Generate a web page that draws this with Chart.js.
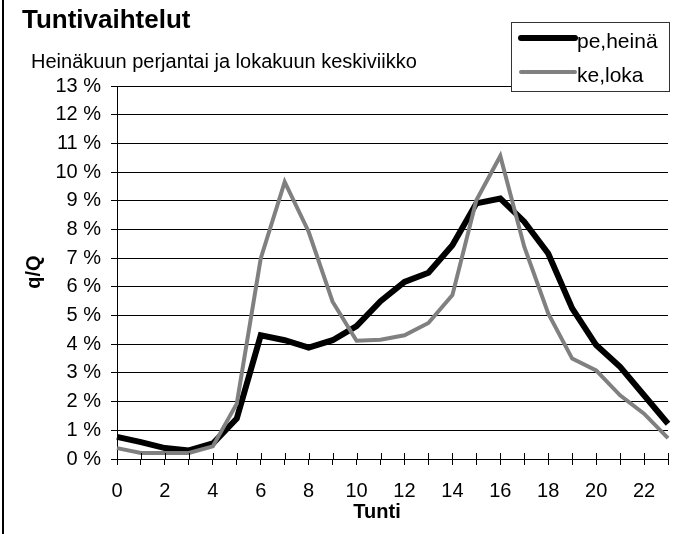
<!DOCTYPE html>
<html>
<head>
<meta charset="utf-8">
<script src="https://cdn.jsdelivr.net/npm/chart.js@4"></script>
<style>
  body { margin: 0; background: #fff; }
  #wrap { width: 691px; height: 534px; }
</style>
</head>
<body>
<div id="wrap"><canvas id="tuntiChart" width="691" height="534"></canvas></div>
<script>
// Tunnit (x-akseli)
const tunnit = [0, 1, 2, 3, 4, 5, 6, 7, 8, 9, 10, 11, 12, 13, 14, 15, 16, 17, 18, 19, 20, 21, 22, 23];

// Heinäkuun perjantai (%)
const peHeina = [0.77, 0.59, 0.38, 0.30, 0.54, 1.41, 4.31, 4.14, 3.88, 4.14, 4.63, 5.50,
                 6.17, 6.49, 7.45, 8.91, 9.08, 8.27, 7.16, 5.25, 3.97, 3.21, 2.22, 1.23];

// Lokakuun keskiviikko (%)
const keLoka = [0.38, 0.21, 0.21, 0.21, 0.44, 1.93, 6.99, 9.66, 7.92, 5.48, 4.12, 4.16,
                4.31, 4.74, 5.71, 9.02, 10.56, 7.40, 5.07, 3.50, 3.09, 2.22, 1.58, 0.73];

const sarjaNimet = ["pe,heinä", "ke,loka"];
const yMax = 13;

const FONT = "'Liberation Sans', Arial, sans-serif";

// Otsikot, selite ja akselien nimet piirretään itse
const koristeet = {
    id: "koristeet",
    afterDraw(chart) {
        const ctx = chart.ctx;
        const area = chart.chartArea;
        const x = chart.scales.x;
        ctx.save();

        // vasen reunaviiva
        ctx.strokeStyle = "#000";
        ctx.lineWidth = 2;
        ctx.beginPath();
        ctx.moveTo(3, 0);
        ctx.lineTo(3, 534);
        ctx.stroke();

        // x-akselin sisäpuoliset tikit
        ctx.lineWidth = 1;
        tunnit.forEach((t, i) => {
            const px = Math.round(x.getPixelForValue(i)) + 0.5;
            ctx.beginPath();
            ctx.moveTo(px, area.bottom - 6);
            ctx.lineTo(px, area.bottom);
            ctx.stroke();
        });

        ctx.fillStyle = "#000";
        ctx.textBaseline = "alphabetic";

        // otsikko
        ctx.font = "bold 26px " + FONT;
        ctx.textAlign = "left";
        ctx.fillText("Tuntivaihtelut", 22, 28);

        // alaotsikko
        ctx.font = "20px " + FONT;
        ctx.fillText("Heinäkuun perjantai ja lokakuun keskiviikko", 31, 68);

        // akselien nimet
        ctx.font = "bold 20px " + FONT;
        ctx.textAlign = "center";
        ctx.fillText("Tunti", 377, 518);
        ctx.save();
        ctx.translate(40, 272);
        ctx.rotate(-Math.PI / 2);
        ctx.fillText("q/Q", 0, 0);
        ctx.restore();

        // selite
        ctx.fillStyle = "#fff";
        ctx.fillRect(511.5, 22.5, 158, 69);
        ctx.strokeStyle = "#333";
        ctx.lineWidth = 1;
        ctx.strokeRect(511.5, 22.5, 158, 69);
        const rivit = [38, 72];
        chart.data.datasets.forEach((ds, i) => {
            ctx.strokeStyle = ds.borderColor;
            ctx.lineWidth = ds.borderWidth;
            ctx.lineCap = "round";
            ctx.beginPath();
            ctx.moveTo(521, rivit[i]);
            ctx.lineTo(575, rivit[i]);
            ctx.stroke();
            ctx.fillStyle = "#000";
            ctx.font = "21px " + FONT;
            ctx.textAlign = "left";
            ctx.fillText(ds.label, 577, rivit[i] + 10);
        });

        ctx.restore();
    },
};

const ctx = document.getElementById("tuntiChart").getContext("2d");

new Chart(ctx, {
    type: "line",
    data: {
        labels: tunnit,
        datasets: [
            {
                label: sarjaNimet[0],
                data: peHeina,
                borderColor: "#000000",
                borderWidth: 6,
                pointRadius: 0,
                tension: 0,
                order: 1,
            },
            {
                label: sarjaNimet[1],
                data: keLoka,
                borderColor: "#808080",
                borderWidth: 4,
                pointRadius: 0,
                tension: 0,
                order: 0,
            },
        ],
    },
    options: {
        responsive: false,
        animation: false,
        devicePixelRatio: 1,
        layout: {
            padding: { top: 86, right: 23, bottom: 0, left: 0 },
        },
        plugins: {
            legend: { display: false },
            title: { display: false },
            tooltip: { enabled: false },
        },
        scales: {
            x: {
                type: "category",
                offset: false,
                afterFit: (s) => { s.height = 75; },
                grid: {
                    drawOnChartArea: false,
                    drawTicks: true,
                    tickLength: 6,
                    color: "#000",
                },
                border: { color: "#000", width: 1 },
                ticks: {
                    autoSkip: false,
                    maxRotation: 0,
                    padding: 14,
                    color: "#000",
                    font: { family: FONT, size: 20 },
                    callback: (v, i) => (tunnit[i] % 2 === 0 ? String(tunnit[i]) : ""),
                },
            },
            y: {
                min: 0,
                max: yMax,
                afterFit: (s) => { s.width = 117; },
                grid: {
                    color: "#000",
                    lineWidth: 1,
                    tickLength: 6,
                },
                border: { color: "#000", width: 1 },
                ticks: {
                    stepSize: 1,
                    padding: 10,
                    color: "#000",
                    font: { family: FONT, size: 20 },
                    callback: (v) => v + " %",
                },
            },
        },
    },
    plugins: [koristeet],
});
</script>
</body>
</html>
